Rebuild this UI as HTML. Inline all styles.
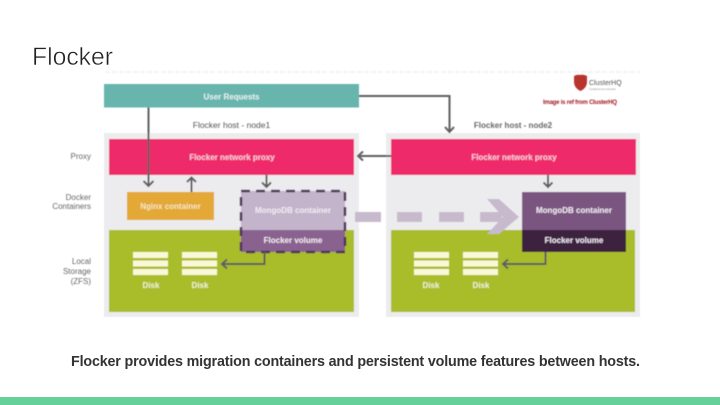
<!DOCTYPE html>
<html><head><meta charset="utf-8"><style>
html,body{margin:0;padding:0;background:#fff}
svg{display:block}
text{font-family:"Liberation Sans",sans-serif}
</style></head><body>
<svg width="720" height="405" viewBox="0 0 720 405" xmlns="http://www.w3.org/2000/svg">
<defs><filter id="b" x="-5%" y="-5%" width="110%" height="110%"><feGaussianBlur stdDeviation="0.5"/></filter></defs>
<rect width="720" height="405" fill="#fff"/>
<text x="32" y="65" font-size="25" fill="#222" stroke="#fff" stroke-width="0.5" textLength="81" lengthAdjust="spacingAndGlyphs">Flocker</text>
<g filter="url(#b)">
<path d="M105 72H640" stroke="#f1f1f1" stroke-width="1.500" stroke-dasharray="5 2"/>
<rect x="104" y="84" width="255" height="23.500" fill="#68b5ae"/>
<text x="231.500" y="99.500" font-size="8" font-weight="bold" fill="#e4f3f1" text-anchor="middle">User Requests</text>
<text x="231.500" y="128" font-size="8.500" fill="#555" text-anchor="middle">Flocker host - node1</text>
<text x="513" y="128" font-size="8" font-weight="bold" fill="#666" text-anchor="middle">Flocker host - node2</text>
<rect x="104" y="133" width="255" height="184" fill="#ececee"/>
<rect x="386" y="133" width="254" height="184" fill="#ececee"/>
<rect x="109" y="139" width="245" height="36" fill="#ee2a6b"/>
<rect x="391" y="139" width="245" height="36" fill="#ee2a6b"/>
<text x="232" y="160" font-size="8" font-weight="bold" fill="#f8cfe0" text-anchor="middle">Flocker network proxy</text>
<text x="514" y="160" font-size="8" font-weight="bold" fill="#f8cfe0" text-anchor="middle">Flocker network proxy</text>
<rect x="109" y="230" width="245" height="82" fill="#a9bc2c"/>
<rect x="391" y="230" width="244" height="82" fill="#a9bc2c"/>
<rect x="127" y="192" width="87" height="28" fill="#e3a834"/>
<text x="170.500" y="209" font-size="8" font-weight="bold" fill="#f6e6bd" text-anchor="middle">Nginx container</text>
<rect x="241" y="191" width="104" height="39" fill="#c3b4cb"/>
<rect x="241" y="230" width="104" height="22" fill="#8a6290"/>
<rect x="241" y="191" width="104" height="61" fill="none" stroke="#4f3558" stroke-width="2.500" stroke-dasharray="9 6"/>
<text x="293" y="213" font-size="8" font-weight="bold" fill="#f2edf4" text-anchor="middle">MongoDB container</text>
<text x="293" y="243" font-size="8" font-weight="bold" fill="#f2edf4" text-anchor="middle">Flocker volume</text>
<rect x="522" y="192" width="104" height="38" fill="#7a5480"/>
<rect x="522" y="230" width="104" height="22" fill="#3d2341"/>
<text x="574" y="213" font-size="8" font-weight="bold" fill="#f2edf4" text-anchor="middle">MongoDB container</text>
<text x="574" y="243" font-size="8" font-weight="bold" fill="#f2edf4" text-anchor="middle">Flocker volume</text>
<g fill="#c7bacd">
<rect x="355" y="212" width="26" height="10"/>
<rect x="397" y="212" width="25" height="10"/>
<rect x="439" y="212" width="25" height="10"/>
<rect x="480" y="212" width="22" height="10"/>
<polygon points="487,199 499,199 519,217 499,234 487,234 503,217"/>
</g>
<g fill="#fbf8d8">
<rect x="133" y="252" width="35" height="6"/><rect x="133" y="260.500" width="35" height="6"/><rect x="133" y="269" width="35" height="6"/>
<rect x="182" y="252" width="35" height="6"/><rect x="182" y="260.500" width="35" height="6"/><rect x="182" y="269" width="35" height="6"/>
<rect x="414" y="252" width="35" height="6"/><rect x="414" y="260.500" width="35" height="6"/><rect x="414" y="269" width="35" height="6"/>
<rect x="463" y="252" width="35" height="6"/><rect x="463" y="260.500" width="35" height="6"/><rect x="463" y="269" width="35" height="6"/>
</g>
<g font-size="8" font-weight="bold" fill="#f2f4d0" text-anchor="middle">
<text x="151" y="288">Disk</text><text x="200" y="288">Disk</text><text x="431" y="288">Disk</text><text x="481" y="288">Disk</text>
</g>
<g font-size="8" fill="#666" text-anchor="end">
<text x="91" y="159">Proxy</text>
<text x="91" y="200">Docker</text><text x="91" y="209">Containers</text>
<text x="91" y="264">Local</text><text x="91" y="274">Storage</text><text x="91" y="284">(ZFS)</text>
</g>
<g fill="none" stroke="#5f5f5f" stroke-width="2">
<path d="M148.500 107.500V186"/><path d="M143.500 181l5 5 5-5"/>
<path d="M191.500 192V178"/><path d="M187 182l4.500-4.500 4.500 4.500"/>
<path d="M266.500 175V187"/><path d="M262 182.500l4.500 4.500 4.500-4.500"/>
<path d="M359 96H449.500V132"/><path d="M445 127l4.500 5 4.500-5"/>
<path d="M391 156H358"/><path d="M363 151.500l-5 4.500 5 4.500"/>
<path d="M548 175V187"/><path d="M543.500 182.500l4.500 4.500 4.500-4.500"/>
<path d="M264.500 252V264H222"/><path d="M227 259.500l-5 4.500 5 4.500"/>
<path d="M545.500 252V264H503"/><path d="M508 259.500l-5 4.500 5 4.500"/>
</g>
<path d="M574 76c4-2 6-1 6-1s3-1 7 1v6c0 5-4 8-6.500 9-2.500-1-6.500-4-6.500-9z" fill="#b8362e"/>
<text x="589" y="85" font-size="7" fill="#555">ClusterHQ</text>
<text x="589" y="90" font-size="2.500" fill="#888">Containers for everyone</text>
<text x="543" y="104" font-size="6" font-weight="bold" fill="#a01b24" textLength="74" lengthAdjust="spacing">Image is ref from ClusterHQ</text>
</g>
<text x="71" y="366" font-size="14.300" font-weight="bold" fill="#333" textLength="569" lengthAdjust="spacing">Flocker provides migration containers and persistent volume features between hosts.</text>
<rect x="0" y="397" width="720" height="8" fill="#66d09a"/>
</svg>
</body></html>
